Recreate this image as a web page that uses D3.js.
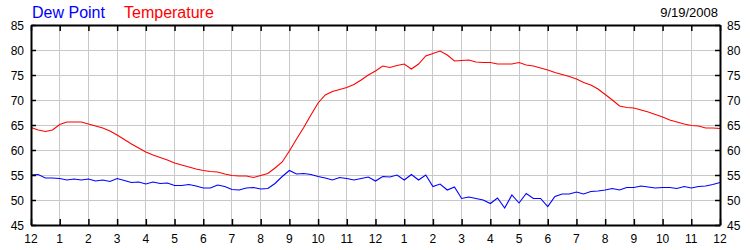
<!DOCTYPE html>
<html>
<head>
<meta charset="utf-8">
<script src="https://cdn.jsdelivr.net/npm/d3@7"></script>
<style>
  body { margin: 0; background: #fff; }
  svg { display: block; font-family: "Liberation Sans", Arial, sans-serif; }
</style>
</head>
<body>
<svg id="vis" width="750" height="250"></svg>
<script>
// readings every 15 minutes, midnight to midnight
var temperature = [
  64.5, 64.0, 63.7, 64.0, 65.1, 65.6, 65.6, 65.6,
  65.2, 64.8, 64.4, 63.8, 63.0, 62.1, 61.2, 60.4,
  59.6, 59.0, 58.5, 58.0, 57.4, 57.0, 56.6, 56.2,
  55.9, 55.7, 55.6, 55.2, 54.9, 54.8, 54.8, 54.5,
  54.9, 55.3, 56.4, 57.6, 59.8, 62.2, 64.5, 67.0,
  69.4, 71.0, 71.7, 72.1, 72.5, 73.1, 74.0, 75.0,
  75.8, 76.8, 76.5, 76.9, 77.2, 76.2, 77.2, 78.8,
  79.3, 79.8, 79.0, 77.8, 77.9, 78.0, 77.6, 77.5,
  77.5, 77.2, 77.2, 77.2, 77.5, 77.0, 76.8, 76.4,
  76.0, 75.5, 75.1, 74.7, 74.2, 73.5, 73.0, 72.2,
  71.1, 70.0, 68.8, 68.5, 68.4, 68.0, 67.6, 67.1,
  66.6, 66.0, 65.6, 65.2, 64.9, 64.8, 64.4, 64.4,
  64.3
];
var dewPoint = [
  55.0, 55.1, 54.4, 54.4, 54.3, 54.0, 54.2, 54.0,
  54.2, 53.8, 54.0, 53.7, 54.3, 53.9, 53.5, 53.6,
  53.2, 53.6, 53.3, 53.4, 52.9, 52.9, 53.1, 52.8,
  52.4, 52.4, 53.0, 52.7, 52.1, 52.0, 52.4, 52.5,
  52.2, 52.3, 53.3, 54.7, 55.9, 55.2, 55.3, 55.1,
  54.7, 54.4, 54.0, 54.5, 54.3, 54.0, 54.3, 54.6,
  53.8, 54.7, 54.6, 55.0, 54.0, 55.1, 54.0, 55.0,
  52.7, 53.2, 52.0, 52.6, 50.3, 50.6, 50.3, 50.0,
  49.3, 50.4, 48.4, 51.0, 49.4, 51.3, 50.3, 50.3,
  48.7, 50.7, 51.2, 51.2, 51.6, 51.2, 51.7, 51.8,
  52.0, 52.3, 52.0, 52.5, 52.5, 52.8, 52.6, 52.4,
  52.5, 52.5, 52.3, 52.7, 52.4, 52.7, 52.8, 53.1,
  53.5
];
var hourLabels = ["12","1","2","3","4","5","6","7","8","9","10","11",
                  "12","1","2","3","4","5","6","7","8","9","10","11","12"];
var valueTicks = [45, 50, 55, 60, 65, 70, 75, 80, 85];
var seriesNames = ["Dew Point", "Temperature"];
var seriesColors = ["#0000ff", "#ff0000"];
var dateLabel = "9/19/2008";

var plotLeft = 31, plotRight = 720, plotTop = 25, plotBottom = 225;
var svg = d3.select("#vis");

var x = d3.scaleLinear().domain([0, 24]).range([plotLeft, plotRight]);
var y = d3.scaleLinear().domain([45, 85]).range([plotBottom, plotTop]);
var hours = d3.range(0, 25);

// grid
svg.append("g").selectAll("line")
  .data(hours.slice(1, -1)).enter().append("line")
  .attr("x1", function(d){ return x(d); }).attr("x2", function(d){ return x(d); })
  .attr("y1", plotTop).attr("y2", plotBottom)
  .attr("stroke", "#c8c8c8").attr("shape-rendering", "crispEdges");
svg.append("g").selectAll("line")
  .data(valueTicks.slice(1, -1)).enter().append("line")
  .attr("x1", plotLeft).attr("x2", plotRight)
  .attr("y1", function(d){ return y(d); }).attr("y2", function(d){ return y(d); })
  .attr("stroke", "#c8c8c8").attr("shape-rendering", "crispEdges");

// lines
var line = d3.line()
  .x(function(d, i){ return x(i * 0.25); })
  .y(function(d){ return y(d); });

[dewPoint, temperature].forEach(function(s, i){
  svg.append("path").datum(s)
    .attr("d", line)
    .attr("fill", "none")
    .attr("stroke", seriesColors[i])
    .attr("stroke-width", 1.1);
});

// axes, ticks inside the frame
var axisL = d3.axisRight(y).tickValues(valueTicks).tickSize(5).tickSizeOuter(0).tickFormat("");
var axisR = d3.axisLeft(y).tickValues(valueTicks).tickSize(5).tickSizeOuter(0).tickFormat("");
var axisT = d3.axisBottom(x).tickValues(hours).tickSize(6).tickSizeOuter(0).tickFormat("");
var axisB = d3.axisTop(x).tickValues(hours).tickSize(6).tickSizeOuter(0).tickFormat("");

svg.append("g").attr("transform", "translate(" + plotLeft + ",0)").call(axisL);
svg.append("g").attr("transform", "translate(" + plotRight + ",0)").call(axisR);
svg.append("g").attr("transform", "translate(0," + plotTop + ")").call(axisT);
svg.append("g").attr("transform", "translate(0," + plotBottom + ")").call(axisB);
svg.selectAll(".domain").attr("stroke", "#000").attr("stroke-width", 2);
svg.selectAll(".tick line").attr("stroke", "#000").attr("stroke-width", 1.5);

// tick labels
svg.append("g").selectAll("text")
  .data(valueTicks).enter().append("text")
  .attr("x", plotLeft - 7).attr("y", function(d){ return y(d) + 4.5; })
  .attr("text-anchor", "end").attr("font-size", 12).attr("fill", "#000")
  .text(function(d){ return d; });
svg.append("g").selectAll("text")
  .data(valueTicks).enter().append("text")
  .attr("x", plotRight + 7).attr("y", function(d){ return y(d) + 4.5; })
  .attr("text-anchor", "start").attr("font-size", 12).attr("fill", "#000")
  .text(function(d){ return d; });
svg.append("g").selectAll("text")
  .data(hourLabels).enter().append("text")
  .attr("x", function(d, i){ return x(i); }).attr("y", 243)
  .attr("text-anchor", "middle").attr("font-size", 12).attr("fill", "#000")
  .text(function(d){ return d; });

// legend and date
svg.append("text").attr("x", 32).attr("y", 17.5).attr("font-size", 16)
  .attr("fill", seriesColors[0]).text(seriesNames[0]);
svg.append("text").attr("x", 124).attr("y", 17.5).attr("font-size", 16)
  .attr("fill", seriesColors[1]).text(seriesNames[1]);
svg.append("text").attr("x", 718).attr("y", 17).attr("font-size", 13)
  .attr("text-anchor", "end").attr("fill", "#000").text(dateLabel);
</script>
</body>
</html>
